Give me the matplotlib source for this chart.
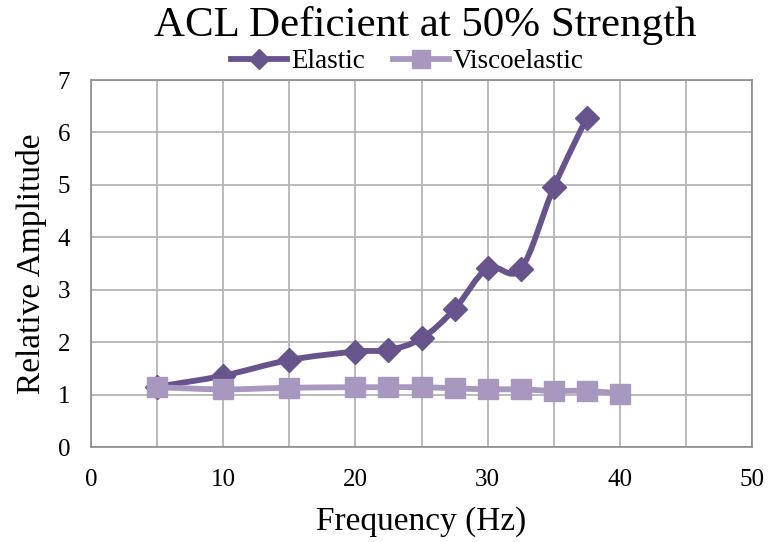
import numpy as np
import matplotlib.pyplot as plt
from matplotlib.path import Path
from matplotlib.patches import PathPatch
from matplotlib.lines import Line2D

plt.rcParams['font.family'] = ['Liberation Serif', 'DejaVu Serif']

freq_elastic = [5, 10, 15, 20, 22.5, 25, 27.5, 30, 32.5, 35, 37.5]
amp_elastic = [1.15, 1.36, 1.66, 1.82, 1.85, 2.07, 2.63, 3.41, 3.39, 4.95, 6.28]

freq_visco = [5, 10, 15, 20, 22.5, 25, 27.5, 30, 32.5, 35, 37.5, 40]
amp_visco = [1.14, 1.10, 1.13, 1.14, 1.14, 1.14, 1.12, 1.10, 1.10, 1.07, 1.07, 1.02]

C_ELASTIC = '#68548c'
C_VISCO = '#a898c0'


def smooth_path(x, y):
    # Catmull-Rom style bezier through the points (like a spreadsheet "smoothed line")
    pts = np.column_stack([x, y]).astype(float)
    verts = [pts[0]]
    codes = [Path.MOVETO]
    n = len(pts)
    for i in range(n - 1):
        p0 = pts[i - 1] if i > 0 else pts[i]
        p1, p2 = pts[i], pts[i + 1]
        p3 = pts[i + 2] if i + 2 < n else pts[i + 1]
        c1 = p1 + (p2 - p0) / 6.0
        c2 = p2 - (p3 - p1) / 6.0
        verts += [c1, c2, p2]
        codes += [Path.CURVE4] * 3
    return Path(verts, codes)


fig = plt.figure(figsize=(7.7, 5.42), dpi=100)
ax = fig.add_axes([91 / 770, 1 - 447 / 542, 661 / 770, 367 / 542])

# elastic first, viscoelastic drawn over it
ax.add_patch(PathPatch(smooth_path(freq_elastic, amp_elastic), fill=False,
                       edgecolor=C_ELASTIC, lw=4.2, zorder=3))
ax.plot(freq_elastic, amp_elastic, ls='none', marker='D', ms=12,
        color=C_ELASTIC, zorder=4)
ax.add_patch(PathPatch(smooth_path(freq_visco, amp_visco), fill=False,
                       edgecolor=C_VISCO, lw=4.2, zorder=5))
ax.plot(freq_visco, amp_visco, ls='none', marker='s', ms=14,
        color=C_VISCO, zorder=6)

ax.set_xlim(0, 50)
ax.set_ylim(0, 7)
ax.set_xticks(range(0, 51, 5), minor=True)
ax.set_xticks(range(0, 51, 10))
ax.set_yticks(range(0, 8))
ax.grid(True, which='both', color='#b4b4b4', lw=1.3)
ax.set_axisbelow(True)
ax.tick_params(which='both', length=0, labelsize=18)
ax.tick_params(axis='x', pad=16)
ax.tick_params(axis='y', pad=15)
for s in ax.spines.values():
    s.set_color('#8c8c8c')
    s.set_linewidth(1.2)

ax.set_xlabel('Frequency (Hz)', fontsize=24, labelpad=11)
ax.set_ylabel('Relative Amplitude', fontsize=24, labelpad=8)
fig.text(0.552, 0.953, 'ACL Deficient at 50% Strength', ha='center',
         va='center', fontsize=31)

handles = [
    Line2D([], [], color=C_ELASTIC, lw=4.2, marker='D', ms=10),
    Line2D([], [], color=C_VISCO, lw=4.2, marker='s', ms=13),
]
fig.legend(handles, ['Elastic', 'Viscoelastic'], loc='center',
           bbox_to_anchor=(0.529, 0.886), ncol=2, frameon=False,
           fontsize=19.5, handlelength=2.05, handletextpad=0.15,
           columnspacing=1.05, borderpad=0)

fig.savefig('out.png', dpi=100)
